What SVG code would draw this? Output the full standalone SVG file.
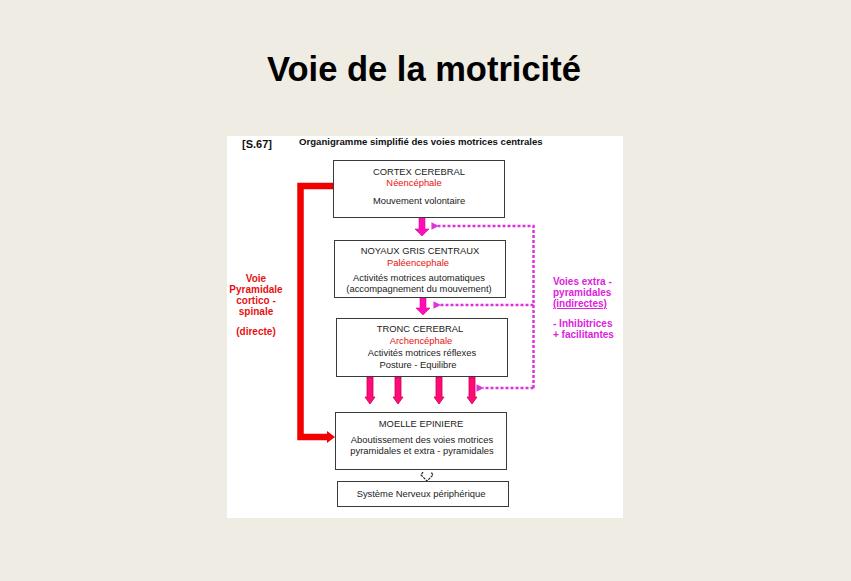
<svg xmlns="http://www.w3.org/2000/svg" width="851" height="581" viewBox="0 0 851 581">
<defs>
<style>
.box{fill:#fff;stroke:#3a3a3a;stroke-width:1}
.t{font-family:"Liberation Sans",Arial,sans-serif;font-size:9.4px;fill:#222;text-anchor:middle}
.r{fill:#e81010}
.lbl{font-family:"Liberation Sans",Arial,sans-serif;font-size:10px;font-weight:bold}
.dot{fill:none;stroke:#dd33dd;stroke-width:2.5;stroke-dasharray:3 2}
.marr{fill:#ff10b4;stroke:#e000a0;stroke-width:0.6}
.parr{fill:#ff0a78;stroke:#c8004a;stroke-width:0.8}
</style>
<marker id="dh" viewBox="0 0 8 8" refX="1" refY="4" markerWidth="3" markerHeight="3" orient="auto-start-reverse">
<path d="M8 0 L0 4 L8 8 Z" fill="#dd33dd"/>
</marker>
</defs>
<rect x="0" y="0" width="851" height="581" fill="#efece3"/>
<text x="424" y="81" font-family="Liberation Sans,Arial,sans-serif" font-size="34.5" font-weight="bold" text-anchor="middle" fill="#000">Voie de la motricité</text>
<rect x="227" y="136" width="396" height="382" fill="#fff"/>
<text x="242" y="148" font-family="Liberation Sans,Arial,sans-serif" font-size="11" font-weight="bold" fill="#111">[S.67]</text>
<text x="299" y="145" font-family="Liberation Sans,Arial,sans-serif" font-size="9.6" font-weight="bold" fill="#111">Organigramme simplifié des voies motrices centrales</text>

<g id="connectors">
  <path d="M333 186 H300.5 V437 H328" fill="none" stroke="#f20000" stroke-width="6.5"/>
  <path d="M327 431 L335 437 L327 443 Z" fill="#f20000"/>
  <path class="marr" d="M419 218 H425 V229 H429 L422 236 L415 229 H419 Z"/>
  <path class="marr" d="M420 298 H426 V308 H430 L423 315 L416 308 H420 Z"/>
  <path class="parr" d="M367 377 H373 V397 H375 L370 404 L365 397 H367 Z"/>
  <path class="parr" d="M395 377 H401 V397 H403 L398 404 L393 397 H395 Z"/>
  <path class="parr" d="M436 377 H442 V397 H444 L439 404 L434 397 H436 Z"/>
  <path class="parr" d="M469 377 H475 V397 H477 L472 404 L467 397 H469 Z"/>
  <path class="dot" d="M533.5 388 V226 H438" marker-end="url(#dh)"/>
  <path class="dot" d="M533.5 305 H440" marker-end="url(#dh)"/>
  <path class="dot" d="M533.5 388 H483" marker-end="url(#dh)"/>
  <path d="M423 472 L421 475 L427 481 L433 475 L431 472" fill="none" stroke="#222" stroke-width="1.2" stroke-dasharray="2.5 1"/>
</g>

<g id="cortex">
  <rect class="box" x="333.5" y="160.5" width="171" height="57"/>
  <text class="t" x="419" y="175">CORTEX CEREBRAL</text>
  <text class="t r" x="414" y="186">Néencéphale</text>
  <text class="t" x="419" y="204">Mouvement volontaire</text>
</g>
<g id="noyaux">
  <rect class="box" x="334.5" y="240.5" width="171" height="57"/>
  <text class="t" x="420" y="254">NOYAUX GRIS CENTRAUX</text>
  <text class="t r" x="418" y="266">Paléencephale</text>
  <text class="t" x="419" y="281">Activités motrices automatiques</text>
  <text class="t" x="419" y="292">(accompagnement du mouvement)</text>
</g>
<g id="tronc">
  <rect class="box" x="336.5" y="318.5" width="171" height="58"/>
  <text class="t" x="420" y="332">TRONC CEREBRAL</text>
  <text class="t r" x="421" y="344">Archencéphale</text>
  <text class="t" x="422" y="356">Activités motrices réflexes</text>
  <text class="t" x="418" y="368">Posture - Equilibre</text>
</g>
<g id="moelle">
  <rect class="box" x="335.5" y="412.5" width="171" height="57"/>
  <text class="t" x="421" y="427">MOELLE EPINIERE</text>
  <text class="t" x="422" y="443">Aboutissement des voies motrices</text>
  <text class="t" x="422" y="454">pyramidales et extra - pyramidales</text>
</g>
<g id="snp">
  <rect class="box" x="337.5" y="481.5" width="171" height="25"/>
  <text class="t" x="421" y="497">Système Nerveux périphérique</text>
</g>
<g id="label-pyramidale" class="lbl" fill="#e81010" text-anchor="middle">
  <text x="256" y="282">Voie</text>
  <text x="256" y="293">Pyramidale</text>
  <text x="256" y="304">cortico -</text>
  <text x="256" y="315">spinale</text>
  <text x="256" y="335">(directe)</text>
</g>
<g id="label-extra" class="lbl" fill="#dd22dd">
  <text x="553" y="285">Voies extra -</text>
  <text x="553" y="296">pyramidales</text>
  <text x="553" y="307" text-decoration="underline">(indirectes)</text>
  <text x="553" y="327">- Inhibitrices</text>
  <text x="553" y="338">+ facilitantes</text>
</g>
</svg>
